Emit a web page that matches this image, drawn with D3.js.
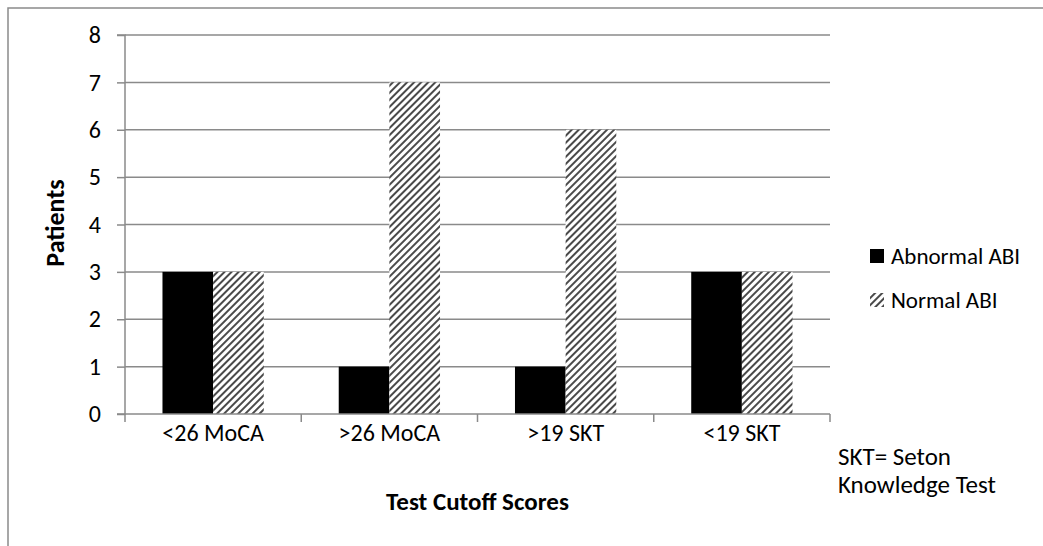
<!DOCTYPE html>
<html>
<head>
<meta charset="utf-8">
<script src="https://cdn.jsdelivr.net/npm/d3@7"></script>
<style>
html,body{margin:0;padding:0;background:#fff;}
svg{display:block;}
text{font-family:Carlito,"Open Sans","Noto Sans",sans-serif;fill:#000;}
</style>
</head>
<body>
<svg id="chart" width="1043" height="546"></svg>
<script>
const categories = ["<26 MoCA", ">26 MoCA", ">19 SKT", "<19 SKT"];
const seriesNames = ["Abnormal ABI", "Normal ABI"];
const abnormalABI = [3, 1, 1, 3];
const normalABI = [3, 7, 6, 3];
const yTicks = [0, 1, 2, 3, 4, 5, 6, 7, 8];

const svg = d3.select("#chart");
const margin = {left: 125, right: 213, top: 35, bottom: 132};
const W = 1043, H = 546;

// outer frame (partially visible)
svg.append("rect").attr("x", 8).attr("y", 8).attr("width", 1100).attr("height", 600)
  .attr("fill", "none").attr("stroke", "#8a8a8a").attr("stroke-width", 1.5);

const defs = svg.append("defs");
const pat = defs.append("pattern").attr("id", "hatch").attr("patternUnits", "userSpaceOnUse")
  .attr("width", 5).attr("height", 5).attr("patternTransform", "rotate(45)");
pat.append("rect").attr("width", 5).attr("height", 5).attr("fill", "#fff");
pat.append("rect").attr("x", 0).attr("y", 0).attr("width", 2).attr("height", 5).attr("fill", "#4a4a4a");

const x = d3.scaleBand().domain(categories).range([margin.left, W - margin.right]).paddingInner(0).paddingOuter(0);
const y = d3.scaleLinear().domain([0, 8]).range([H - margin.bottom, margin.top]);
const x1 = d3.scaleBand().domain(seriesNames).range([0, x.bandwidth()]).paddingOuter(0.74).paddingInner(0);

// gridlines
svg.append("g").selectAll("line").data(yTicks.filter(d => d > 0)).join("line")
  .attr("x1", margin.left).attr("x2", W - margin.right)
  .attr("y1", d => y(d)).attr("y2", d => y(d))
  .attr("stroke", "#8a8a8a").attr("stroke-width", 1.5);

const series = [abnormalABI, normalABI];
const fills = ["#000", "url(#hatch)"];
const g = svg.append("g");
categories.forEach((c, i) => {
  seriesNames.forEach((s, j) => {
    g.append("rect")
      .attr("x", x(c) + x1(s))
      .attr("width", x1.bandwidth())
      .attr("y", y(series[j][i]))
      .attr("height", y(0) - y(series[j][i]))
      .attr("fill", fills[j]);
  });
});

// y axis
const yAxis = d3.axisLeft(y).tickValues(yTicks).tickSize(8).tickPadding(16).tickFormat(d3.format("d"));
const ya = svg.append("g").attr("transform", `translate(${margin.left},0)`).call(yAxis);
ya.select(".domain").attr("stroke", "#8a8a8a").attr("stroke-width", 1.5).attr("d", `M-8,${y(8)}H0V${y(0)}H-8`);
ya.selectAll(".tick line").attr("stroke", "#8a8a8a").attr("stroke-width", 1.5);
ya.selectAll(".tick text").style("font-size", "24px").style("font-family", 'Carlito,"Open Sans","Noto Sans",sans-serif').attr("fill", "#000");

// x axis
const xTickPos = categories.map(c => x(c)).concat([x(categories[categories.length - 1]) + x.bandwidth()]);
const xa = svg.append("g");
xa.append("line").attr("x1", margin.left).attr("x2", W - margin.right).attr("y1", y(0)).attr("y2", y(0))
  .attr("stroke", "#8a8a8a").attr("stroke-width", 1.5);
xa.selectAll("line.t").data(xTickPos).join("line").attr("class", "t")
  .attr("x1", d => d).attr("x2", d => d).attr("y1", y(0)).attr("y2", y(0) + 8)
  .attr("stroke", "#8a8a8a").attr("stroke-width", 1.5);
xa.selectAll("text").data(categories).join("text")
  .attr("x", d => x(d) + x.bandwidth() / 2).attr("y", y(0) + 27)
  .attr("text-anchor", "middle").style("font-size", "24px").text(d => d);

// axis titles
svg.append("text").attr("x", x(categories[0]) + (W - margin.right - margin.left) / 2).attr("y", 510)
  .attr("text-anchor", "middle").style("font-size", "25px").style("font-weight", "bold").text("Test Cutoff Scores");
svg.append("text").attr("transform", "translate(64,223) rotate(-90)")
  .attr("text-anchor", "middle").style("font-size", "26px").style("font-weight", "bold").text("Patients");

// legend
const lg = svg.append("g");
const legendY = [256, 300];
seriesNames.forEach((s, j) => {
  lg.append("rect").attr("x", 870).attr("y", legendY[j] - 7).attr("width", 14).attr("height", 14).attr("fill", fills[j]);
  lg.append("text").attr("x", 891).attr("y", legendY[j] + 8).style("font-size", "23px").text(s);
});

// note
const note = svg.append("text").attr("x", 838).attr("y", 465).style("font-size", "25px");
note.append("tspan").attr("x", 838).text("SKT= Seton");
note.append("tspan").attr("x", 838).attr("dy", 28).text("Knowledge Test");
</script>
</body>
</html>
